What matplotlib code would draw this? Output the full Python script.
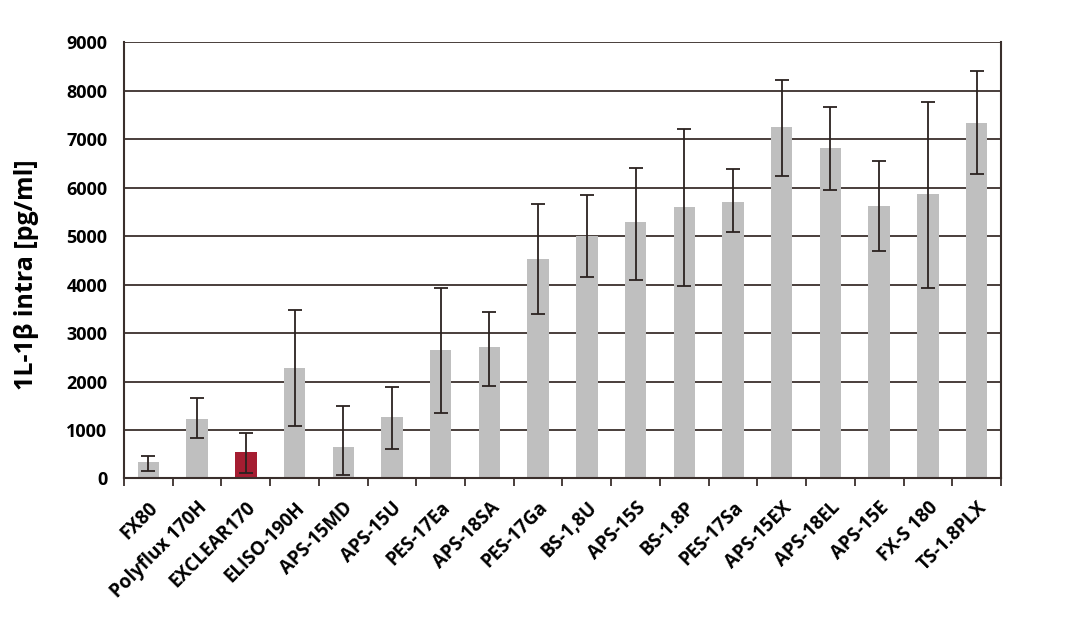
import numpy as np
import matplotlib.pyplot as plt
from matplotlib.ticker import FixedLocator

# Werte
dialyzers = ['FX80', 'Polyflux 170H', 'EXCLEAR170', 'ELISO-190H', 'APS-15MD',
             'APS-15U', 'PES-17Ea', 'APS-18SA', 'PES-17Ga', 'BS-1,8U', 'APS-15S',
             'BS-1.8P', 'PES-17Sa', 'APS-15EX', 'APS-18EL', 'APS-15E', 'FX-S 180',
             'TS-1.8PLX']
il1b_mean = [350, 1225, 550, 2280, 660, 1270, 2655, 2715, 4525, 5000, 5295,
             5605, 5710, 7255, 6815, 5625, 5875, 7340]
err_low = [155, 845, 115, 1085, 70, 605, 1355, 1915, 3405, 4165, 4105,
           3970, 5085, 6245, 5955, 4705, 3940, 6280]
err_high = [470, 1655, 935, 3485, 1505, 1895, 3940, 3435, 5665, 5855, 6410,
            7220, 6395, 8225, 7675, 6555, 7780, 8405]
highlight = 'EXCLEAR170'

gray = '#bfbfbf'
red = '#a51d31'
dark = '#3a2f2c'

plt.rcParams['font.family'] = ['Open Sans', 'DejaVu Sans']

fig = plt.figure(figsize=(10.67, 6.24), dpi=100)
ax = fig.add_axes([0.1162, 0.2332, 0.8219, 0.6987])

x = np.arange(len(dialyzers))
mean = np.array(il1b_mean)
yerr = np.vstack([mean - np.array(err_low), np.array(err_high) - mean])
colors = [red if d == highlight else gray for d in dialyzers]

ax.bar(x, mean, width=0.44, color=colors, zorder=2)
ax.errorbar(x, mean, yerr=yerr, fmt='none', ecolor='#2b2220', elinewidth=1.3,
            capsize=5, capthick=1.3, zorder=3)

ax.set_xlim(-0.5, len(dialyzers) - 0.5)
ax.set_ylim(0, 9000)
ax.set_yticks(np.arange(0, 9001, 1000))
ax.yaxis.grid(True, color=dark, linewidth=1.3, zorder=1)
ax.set_axisbelow(True)

for side in ['left', 'right', 'bottom']:
    ax.spines[side].set_color(dark)
    ax.spines[side].set_linewidth(1.5)
ax.spines['top'].set_visible(False)

ax.set_xticks(x)
ax.set_xticklabels(dialyzers, rotation=45, ha='right', rotation_mode='anchor',
                   fontsize=13.5, fontweight='bold')
ax.tick_params(axis='x', length=0, pad=14)
ax.xaxis.set_minor_locator(FixedLocator(np.arange(-0.5, len(dialyzers), 1.0)))
ax.tick_params(axis='x', which='minor', length=6, width=1.3, color=dark,
               direction='out')
ax.tick_params(axis='y', length=0, pad=12, labelsize=13)
for lbl in ax.get_yticklabels():
    lbl.set_fontweight('bold')

ax.set_ylabel('1L-1β intra [pg/ml]', fontsize=18, fontweight='bold', labelpad=12)
ax.yaxis.set_label_coords(-0.097, 0.467)

fig.savefig('out.png', dpi=100)
